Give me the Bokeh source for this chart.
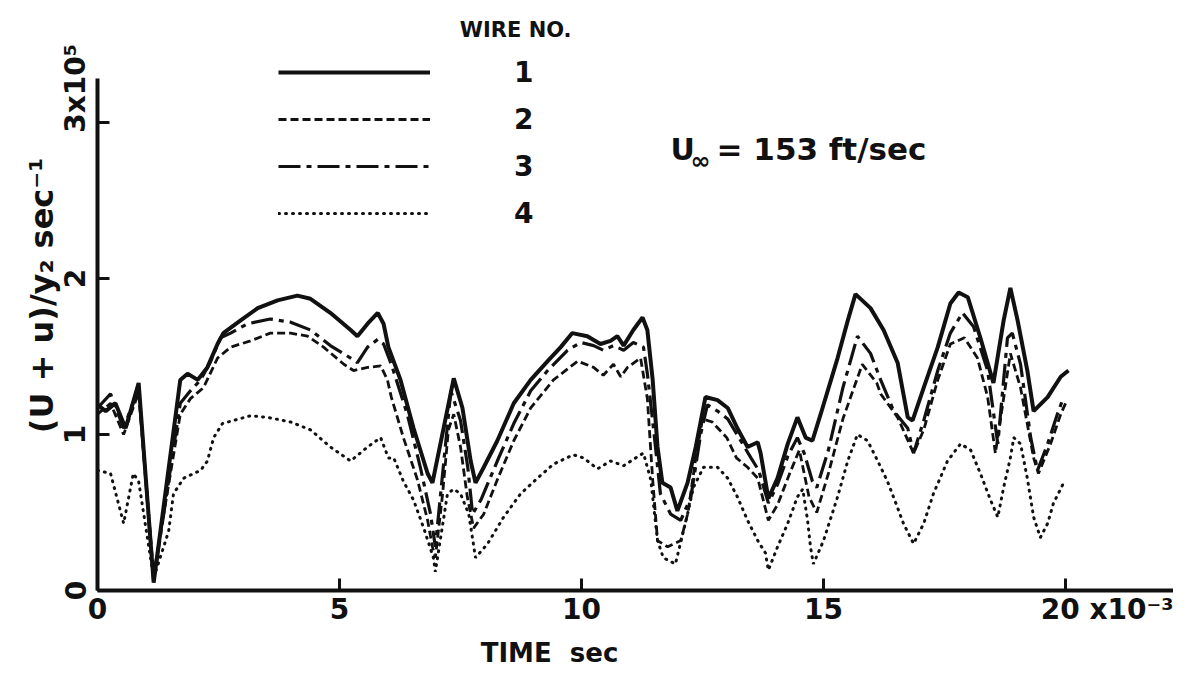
from bokeh.plotting import figure
from bokeh.models import Legend, LegendItem, Label, FixedTicker
from bokeh.embed import file_html
from bokeh.resources import INLINE

# ---- data (time in ms, value in units of 1e5 sec^-1) ----
t1 = [0.0, 0.17, 0.37, 0.58, 0.85, 1.16, 1.71, 1.86, 2.07, 2.27, 2.48, 2.60, 2.95, 3.31, 3.72, 4.13, 4.40, 4.81, 5.23, 5.37,
      5.58, 5.79, 5.91, 6.01, 6.26, 6.53, 6.82, 6.92, 7.36, 7.54, 7.71, 7.81, 7.98, 8.26, 8.60, 8.95, 9.30, 9.57, 9.81, 10.12,
      10.39, 10.60, 10.74, 10.87, 11.07, 11.26, 11.36, 11.47, 11.57, 11.67, 11.84, 11.98, 12.19, 12.36, 12.56, 12.81, 13.02,
      13.22, 13.43, 13.64, 13.70, 13.86, 14.05, 14.26, 14.46, 14.63, 14.77, 14.94, 15.29, 15.50, 15.66, 15.97, 16.24, 16.53,
      16.74, 16.84, 17.07, 17.36, 17.62, 17.79, 17.98, 18.24, 18.51, 18.72, 18.86, 19.01, 19.21, 19.34, 19.63, 19.90, 20.06]
y1 = [1.19, 1.15, 1.20, 1.04, 1.33, 0.05, 1.35, 1.39, 1.35, 1.43, 1.58, 1.65, 1.73, 1.81, 1.86, 1.89, 1.87, 1.78, 1.67, 1.63,
      1.71, 1.78, 1.71, 1.56, 1.35, 1.04, 0.75, 0.69, 1.36, 1.17, 0.83, 0.69, 0.79, 0.96, 1.20, 1.35, 1.47, 1.56, 1.65, 1.63,
      1.58, 1.60, 1.63, 1.57, 1.67, 1.75, 1.67, 1.35, 0.92, 0.69, 0.66, 0.51, 0.69, 0.92, 1.24, 1.22, 1.17,
      1.04, 0.92, 0.95, 0.88, 0.59, 0.72, 0.94, 1.11, 0.98, 0.96, 1.13, 1.49, 1.73, 1.90, 1.81, 1.67, 1.46,
      1.11, 1.09, 1.30, 1.56, 1.84, 1.91, 1.88, 1.62, 1.33, 1.73, 1.94, 1.73, 1.41, 1.15, 1.24, 1.37, 1.41]

t2 = [0.0, 0.27, 0.54, 0.85, 1.16, 1.71, 1.92, 2.19, 2.48, 2.75, 3.16, 3.57, 3.99, 4.34, 4.67, 5.09, 5.29, 5.58, 5.85, 5.99,
      6.07, 6.32, 6.61, 6.82, 6.92, 6.98, 7.13, 7.25, 7.36, 7.50, 7.64, 7.77, 7.98, 8.26, 8.60, 8.95, 9.42, 9.92, 10.25, 10.45,
      10.66, 10.81, 10.95, 11.22, 11.36, 11.47, 11.57, 11.78, 12.05, 12.20, 12.36, 12.50, 12.70, 13.00, 13.20, 13.43, 13.64,
      13.86, 14.05, 14.30, 14.50, 14.70, 14.86, 15.10, 15.40, 15.80, 16.10, 16.18, 16.53, 16.86, 17.07, 17.36, 17.62, 17.91,
      18.18, 18.39, 18.55, 18.86, 19.07, 19.34, 19.44, 19.69, 19.90, 20.00]
y2 = [1.13, 1.20, 1.00, 1.27, 0.10, 1.13, 1.23, 1.30, 1.49, 1.56, 1.60, 1.65, 1.65, 1.63, 1.56, 1.45, 1.41, 1.43, 1.44, 1.35,
      1.24, 0.98, 0.71, 0.45, 0.28, 0.21, 0.62, 1.03, 1.13, 0.92, 0.60, 0.40, 0.49, 0.71, 0.96, 1.17, 1.35, 1.47, 1.43, 1.38,
      1.45, 1.37, 1.43, 1.49, 1.23, 0.71, 0.32, 0.28, 0.32, 0.50, 0.85, 1.10, 1.08, 0.98, 0.85, 0.79, 0.72,
      0.45, 0.55, 0.75, 0.90, 0.60, 0.50, 0.75, 1.10, 1.45, 1.33, 1.26, 1.11, 0.88, 1.03, 1.35, 1.58, 1.62,
      1.49, 1.24, 0.88, 1.52, 1.30, 0.85, 0.75, 0.94, 1.13, 1.20]

t3 = [0.0, 0.27, 0.54, 0.85, 1.16, 1.71, 1.92, 2.13, 2.34, 2.54, 2.75, 3.10, 3.57, 3.99, 4.40, 4.81, 5.23, 5.37, 5.58, 5.79,
      5.91, 6.07, 6.40, 6.67, 6.88, 6.98, 7.15, 7.30, 7.50, 7.65, 7.75, 7.92, 8.26, 8.60, 8.95, 9.30, 9.71, 9.98, 10.25, 10.45,
      10.66, 10.87, 11.07, 11.28, 11.36, 11.49, 11.63, 11.84, 12.05, 12.26, 12.46, 12.60, 12.81, 13.02, 13.29, 13.50, 13.66,
      13.86, 14.05, 14.26, 14.46, 14.60, 14.77, 14.86, 15.10, 15.40, 15.70, 15.97, 16.18, 16.45, 16.74, 16.86, 17.07, 17.36,
      17.62, 17.87, 18.10, 18.39, 18.60, 18.80, 18.90, 19.07, 19.28, 19.42, 19.63, 19.83, 19.96]
y3 = [1.17, 1.26, 1.04, 1.30, 0.06, 1.20, 1.28, 1.35, 1.47, 1.62, 1.65, 1.71, 1.74, 1.72, 1.67, 1.57, 1.49, 1.46, 1.56, 1.61,
      1.58, 1.45, 1.13, 0.79, 0.49, 0.28, 0.81, 1.28, 1.09, 0.79, 0.49, 0.58, 0.83, 1.07, 1.28, 1.41, 1.54, 1.59, 1.57, 1.54,
      1.57, 1.54, 1.59, 1.56, 1.39, 1.03, 0.62, 0.49, 0.45, 0.60, 1.00, 1.19, 1.15, 1.10, 0.96, 0.85, 0.77,
      0.56, 0.68, 0.86, 0.98, 0.88, 0.70, 0.66, 0.90, 1.30, 1.63, 1.52, 1.35, 1.15, 1.04, 0.88, 1.09, 1.41,
      1.65, 1.78, 1.69, 1.41, 0.94, 1.62, 1.65, 1.45, 0.98, 0.77, 0.94, 1.13, 1.24]

t4 = [0.0, 0.27, 0.54, 0.74, 0.85, 1.16, 1.47, 1.57, 1.78, 2.13, 2.27, 2.40, 2.58, 3.16, 3.51, 3.99, 4.40, 4.81, 5.23, 5.58,
      5.85, 6.01, 6.12, 6.32, 6.53, 6.74, 6.94, 6.98, 7.23, 7.36, 7.50, 7.67, 7.81, 8.06, 8.39, 8.74, 9.09, 9.42, 9.83, 10.04,
      10.33, 10.60, 10.87, 11.22, 11.28, 11.43, 11.57, 11.69, 11.94, 12.19, 12.31, 12.52, 12.81, 13.02, 13.22, 13.43, 13.64,
      13.80, 13.86, 14.05, 14.26, 14.46, 14.57, 14.67, 14.73, 14.79, 15.00, 15.29, 15.50, 15.70, 15.91, 16.12, 16.32, 16.53,
      16.65, 16.86, 17.07, 17.27, 17.56, 17.83, 18.04, 18.24, 18.45, 18.60, 18.72, 18.86, 18.93, 19.07, 19.21, 19.34, 19.48,
      19.63, 19.75, 19.96]
y4 = [0.77, 0.75, 0.43, 0.75, 0.70, 0.08, 0.38, 0.62, 0.72, 0.77, 0.83, 0.98, 1.07, 1.12, 1.11, 1.08, 1.03, 0.92, 0.83, 0.92,
      0.98, 0.85, 0.85, 0.70, 0.58, 0.40, 0.21, 0.12, 0.62, 0.65, 0.62, 0.49, 0.21, 0.30, 0.47, 0.62, 0.72, 0.81, 0.87, 0.85,
      0.78, 0.83, 0.80, 0.87, 0.88, 0.71, 0.32, 0.21, 0.17, 0.49, 0.66, 0.79, 0.79, 0.72, 0.60, 0.45, 0.32,
      0.24, 0.13, 0.28, 0.43, 0.60, 0.65, 0.45, 0.28, 0.17, 0.32, 0.60, 0.83, 1.00, 0.96, 0.83, 0.70, 0.53,
      0.43, 0.30, 0.43, 0.62, 0.83, 0.94, 0.90, 0.75, 0.58, 0.47, 0.66, 0.85, 0.98, 0.94, 0.72, 0.47, 0.34,
      0.43, 0.56, 0.69]

wire_labels = ["1", "2", "3", "4"]
x_ticks = [0, 5, 10, 15, 20]
y_ticks = [0, 1, 2, 3]
x_unit_text = "x10\u207b\u00b3"
y_unit_text = "x10\u2075"

FONT = "DejaVu Sans"
INK = "#111111"
NB = "\u00a0"

W, H = 1173, 671
p = figure(width=W, height=H, output_backend="svg", toolbar_location=None,
           x_range=(0, 22.23), y_range=(0, 3.782),
           min_border_left=97, min_border_right=0, min_border_top=0, min_border_bottom=81)
p.xgrid.visible = False
p.ygrid.visible = False
p.outline_line_color = None
p.background_fill_color = "white"
p.border_fill_color = "white"

for ax in (p.xaxis[0], p.yaxis[0]):
    ax.axis_line_width = 4
    ax.axis_line_color = INK
    ax.major_tick_in = 12
    ax.major_tick_out = 0
    ax.major_tick_line_width = 3
    ax.major_tick_line_color = INK
    ax.minor_tick_line_color = None
    ax.major_label_text_font = FONT
    ax.major_label_text_font_style = "bold"
    ax.major_label_text_font_size = "28px"
    ax.major_label_text_color = INK

p.xaxis.ticker = FixedTicker(ticks=x_ticks)
p.yaxis.ticker = FixedTicker(ticks=y_ticks)
p.xaxis.bounds = (0, 22.23)
p.yaxis.bounds = (0, 3.28)
p.xaxis.major_label_standoff = 2
p.yaxis.major_label_standoff = 5
p.yaxis.major_label_orientation = "vertical"
# unit multipliers written after the last tick value, padded so the number stays on its tick
p.xaxis.major_label_overrides = {20: NB * 10 + "20 " + x_unit_text}
p.yaxis.major_label_overrides = {3: NB * 7 + "3" + y_unit_text}

# x title: padded on the right so that it sits left of the frame centre, as in the original
p.xaxis.axis_label = "TIME" + NB * 2 + "sec" + NB * 19
p.xaxis.axis_label_text_font = FONT
p.xaxis.axis_label_text_font_style = "bold"
p.xaxis.axis_label_text_font_size = "26px"
p.xaxis.axis_label_text_color = INK
p.xaxis.axis_label_standoff = 9

p.yaxis.axis_label = "(U + u)/y\u2082 sec\u207b\u00b9"
p.yaxis.axis_label_text_font = FONT
p.yaxis.axis_label_text_font_style = "bold"
p.yaxis.axis_label_text_font_size = "32px"
p.yaxis.axis_label_text_color = INK
p.yaxis.axis_label_standoff = -4

r1 = p.line(t1, y1, line_color=INK, line_width=4)
r2 = p.line(t2, y2, line_color=INK, line_width=2.8, line_dash="8 4")
r3 = p.line(t3, y3, line_color=INK, line_width=3.2, line_dash="22 6 5 6")
r4 = p.line(t4, y4, line_color=INK, line_width=3, line_dash="1 6", line_cap="round")

legend = Legend(items=[LegendItem(label=lab, renderers=[r]) for lab, r in zip(wire_labels, [r1, r2, r3, r4])],
                location=(181, 360), orientation="vertical",
                padding=0, margin=0, border_line_color=None, background_fill_alpha=0,
                glyph_width=152, glyph_height=34, label_height=34, label_standoff=84, spacing=13,
                label_text_font=FONT, label_text_font_style="bold", label_text_font_size="28px",
                label_text_color=INK)
p.add_layout(legend)


def lab(text, x, y, size, align="left", baseline="middle"):
    p.add_layout(Label(x=x, y=y, text=text, text_font=FONT, text_font_style="bold",
                       text_font_size=size, text_color=INK, text_align=align,
                       text_baseline=baseline))


lab("WIRE NO.", 8.64, 3.59, "21px", align="center")
lab("U", 11.84, 2.83, "30px")
lab("\u221e", 12.25, 2.75, "24px")
lab("= 153 ft/sec", 12.79, 2.83, "31px")

open("out.html", "w").write(file_html(p, INLINE))
